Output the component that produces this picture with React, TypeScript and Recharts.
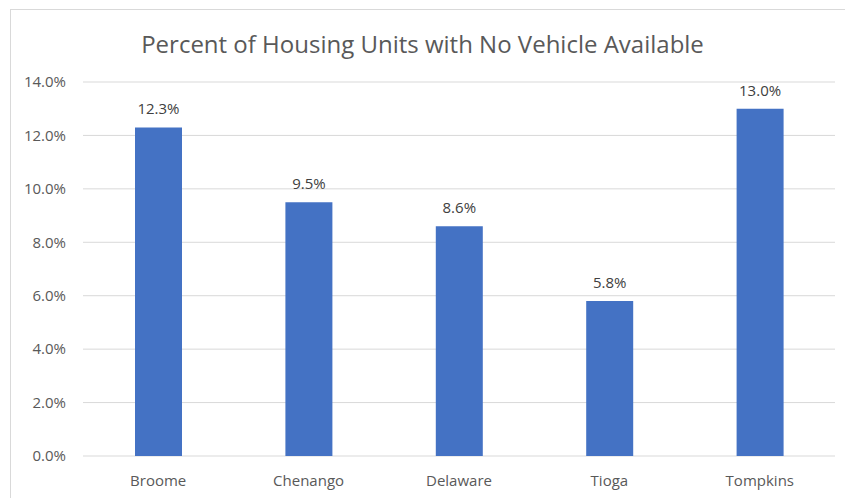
import { BarChart, Bar, XAxis, YAxis, CartesianGrid, LabelList } from "recharts";

const counties = ["Broome", "Chenango", "Delaware", "Tioga", "Tompkins"];
const noVehiclePct = [12.3, 9.5, 8.6, 5.8, 13.0];
const yTicks = [0, 2, 4, 6, 8, 10, 12, 14];

const data = counties.map((name, i) => ({ name, pct: noVehiclePct[i] }));

const fmt = (v: number) => `${Number(v).toFixed(1)}%`;
const font = "'Open Sans', sans-serif";

export default function App() {
  return (
    <div style={{ position: "absolute", left: 0, top: 0, width: 845, height: 498, overflow: "hidden", background: "#fff", fontFamily: font }}>
      <div style={{ position: "absolute", left: 10, top: 9, width: 860, height: 520, border: "1px solid #d9d9d9" }} />
      <div style={{ position: "absolute", left: 0, top: 27, width: 845, textAlign: "center", fontSize: 24, color: "#595959" }}>
        Percent of Housing Units with No Vehicle Available
      </div>
      <BarChart width={845} height={498} data={data} margin={{ top: 82, right: 10, bottom: 0, left: 0 }} style={{ position: "absolute", left: 0, top: 0 }}>
        <CartesianGrid stroke="#d9d9d9" vertical={false} />
        <XAxis dataKey="name" axisLine={false} tickLine={false} tickMargin={13} height={42} tick={{ fill: "#595959", fontSize: 15, fontFamily: font }} />
        <YAxis domain={[0, 14]} ticks={yTicks} tickFormatter={fmt} axisLine={false} tickLine={false} tickMargin={11} width={83} tick={{ fill: "#595959", fontSize: 15, fontFamily: font }} />
        <Bar dataKey="pct" fill="#4472C4" barSize={47} isAnimationActive={false}>
          <LabelList dataKey="pct" position="top" offset={13} formatter={(v: any) => fmt(v)} style={{ fill: "#404040", fontSize: 15, fontFamily: font }} />
        </Bar>
      </BarChart>
    </div>
  );
}
